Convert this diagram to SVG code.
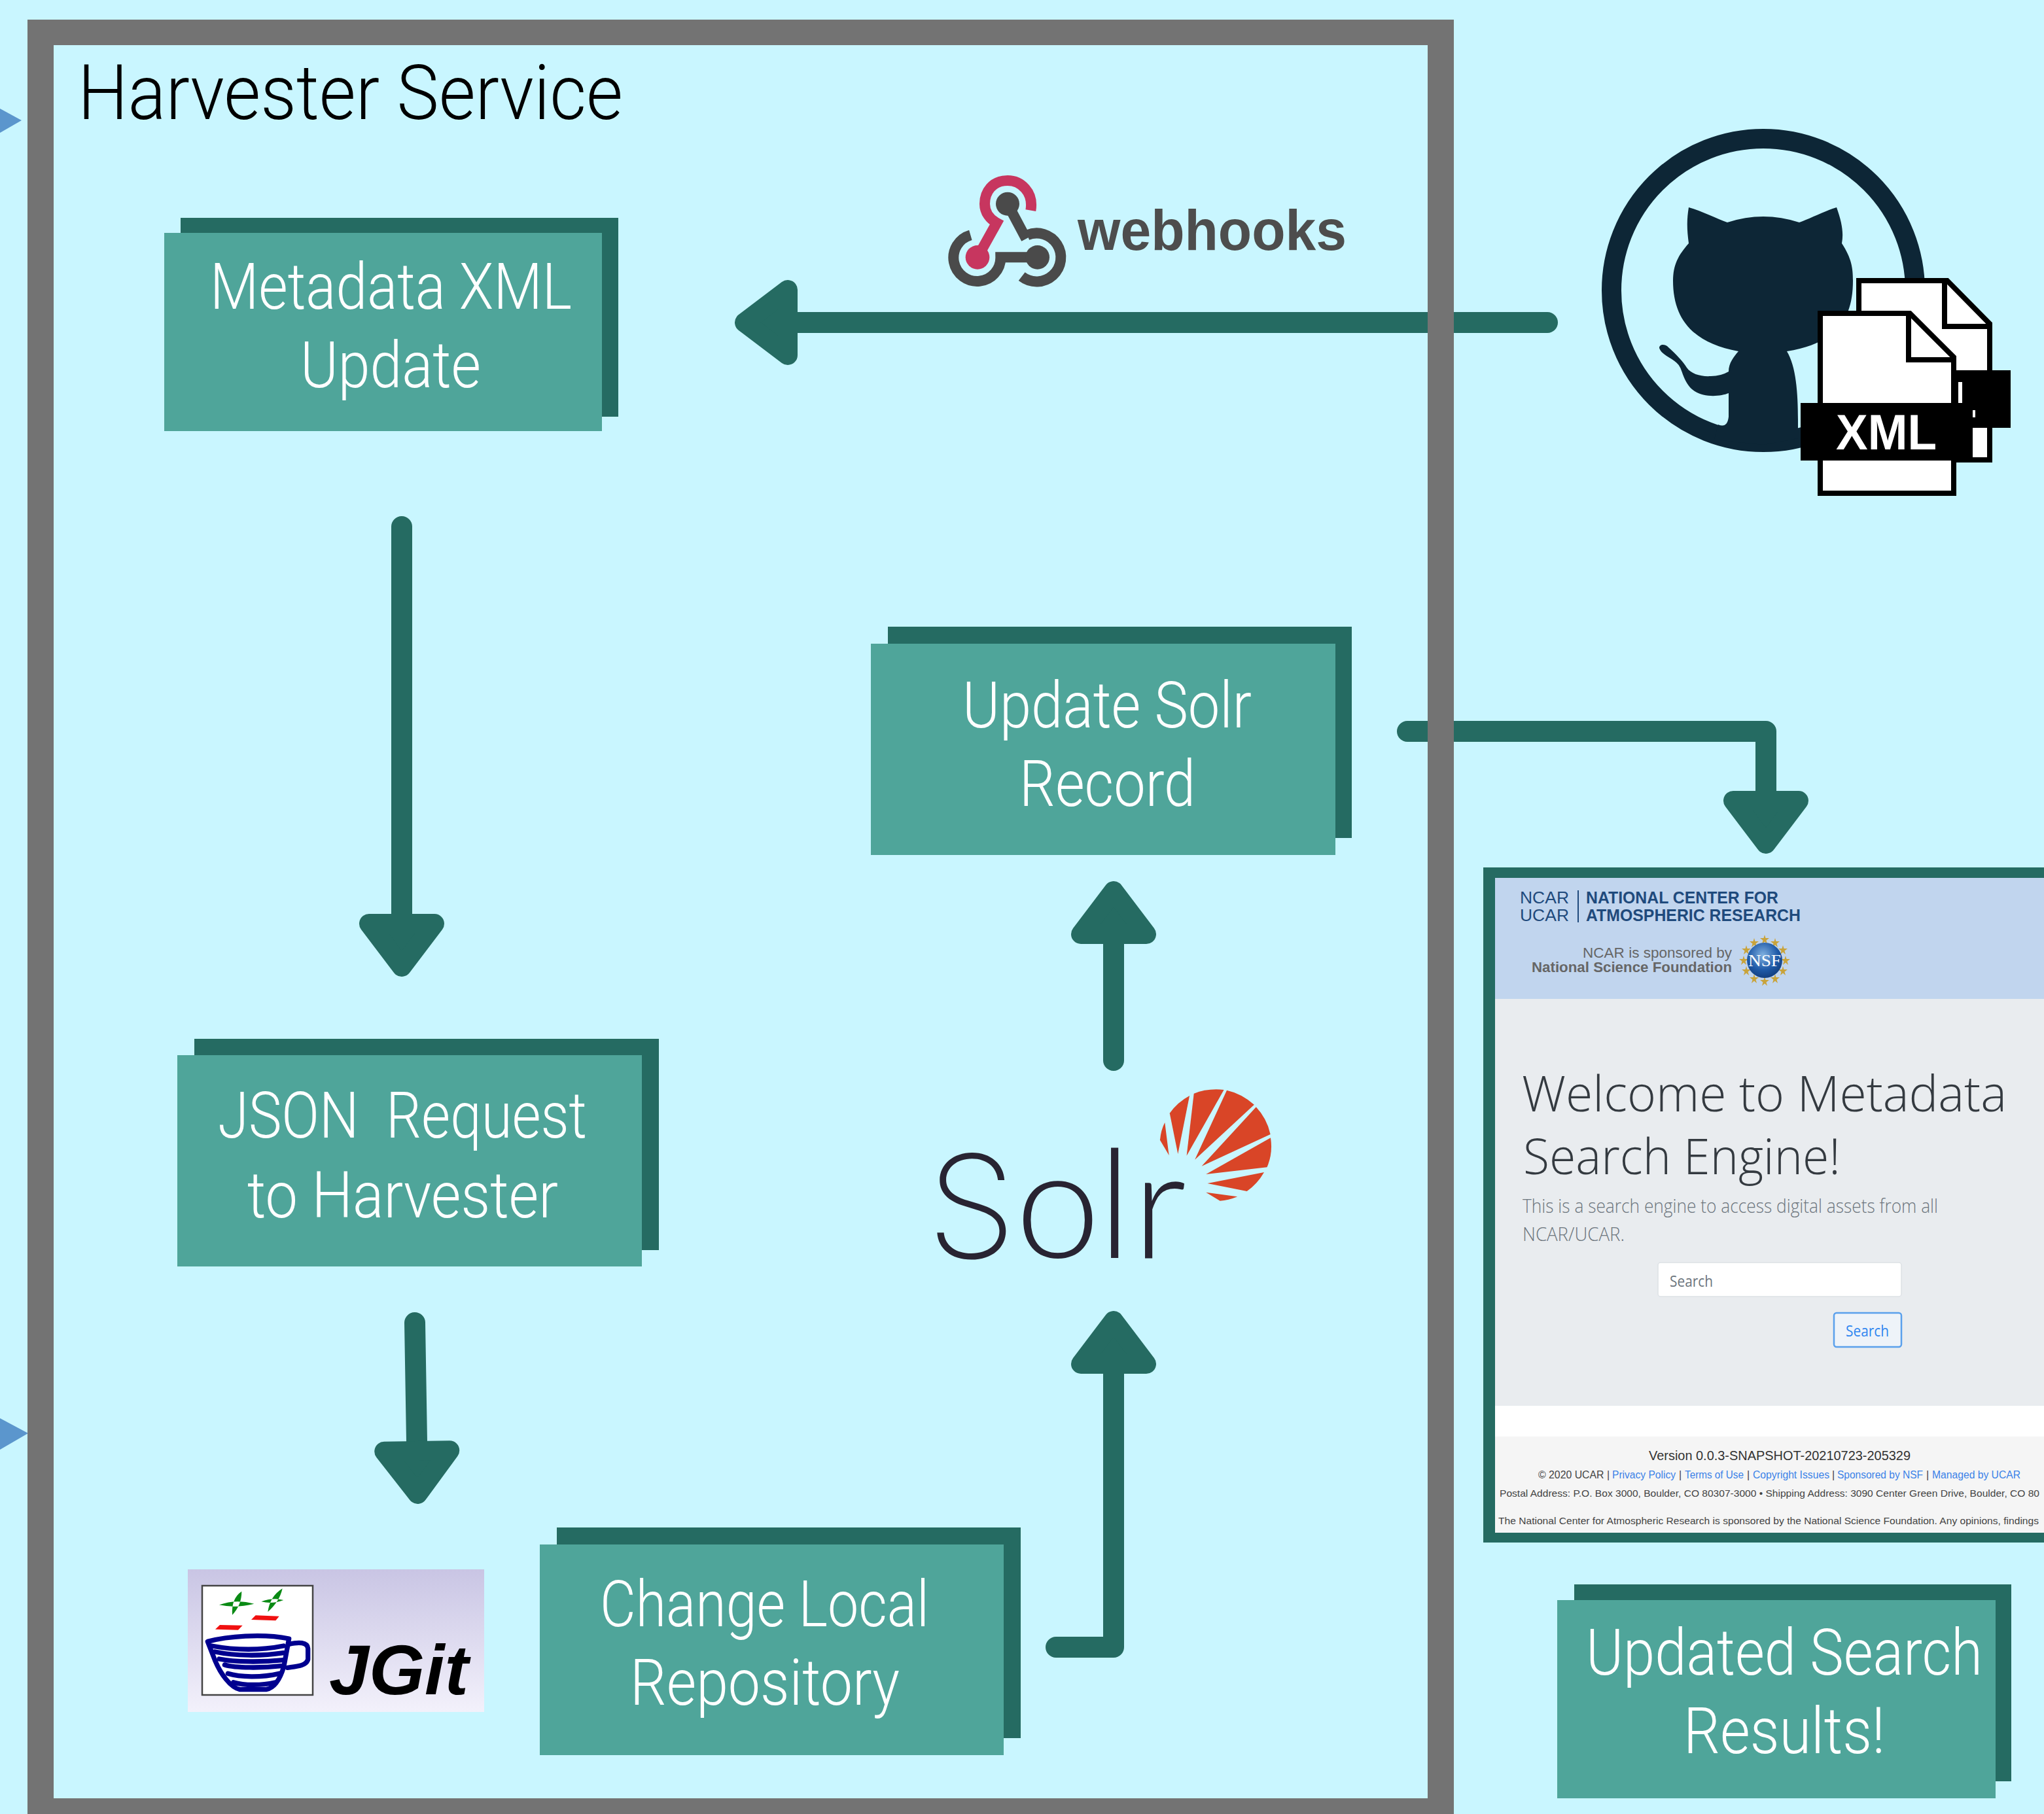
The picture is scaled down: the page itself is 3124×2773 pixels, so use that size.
<svg xmlns="http://www.w3.org/2000/svg" width="3124" height="2773" viewBox="0 0 3124 2773">
<defs>
<style>
.shadow{fill:#256b62}
.box{fill:#4fa59a}
.lbl{font-family:"Roboto","Liberation Sans",sans-serif;font-weight:300;font-size:98px;fill:#fff}
.conn{fill:none;stroke:#256b62;stroke-width:32;stroke-linecap:round;stroke-linejoin:round}
.sans{font-family:"Liberation Sans",Arial,sans-serif}
.open{font-family:"Open Sans","Liberation Sans",sans-serif}
.foot{font-family:"Liberation Sans",Arial,sans-serif;font-size:16px;fill:#444}
.link{fill:#3b82e8}
.dark{fill:#4a4a4a}
.octo{fill:#0d2636}
.doc{fill:#fff;stroke:#000;stroke-width:8}
.ray{fill:#d94527}
.cup{fill:none;stroke:#00008f;stroke-width:22;stroke-linecap:round;stroke-linejoin:round}
.hook{fill:none;stroke-width:48}
</style>
<marker id="head" viewBox="-2 -70 104 140" refX="0" refY="0" markerWidth="104" markerHeight="140" markerUnits="userSpaceOnUse" orient="auto">
<path d="M15 -50 L81 0 L15 50 Z" fill="#256b62" stroke="#256b62" stroke-width="30" stroke-linejoin="round"/>
</marker>
<linearGradient id="jg" x1="0" y1="0" x2="0" y2="1"><stop offset="0" stop-color="#c9c5e4"/><stop offset="1" stop-color="#f3f1fb"/></linearGradient>
<radialGradient id="globe" cx="0.45" cy="0.35" r="0.7"><stop offset="0" stop-color="#7fb0e0"/><stop offset="0.6" stop-color="#1f5aa8"/><stop offset="1" stop-color="#123a78"/></radialGradient>
<polygon id="star" points="0,-7 1.5,-2 7,-2 2.5,1.5 4,7 0,3.5 -4,7 -2.5,1.5 -7,-2 -1.5,-2" fill="#c9a33a"/>
</defs>
<rect width="3124" height="2773" fill="#c9f6ff"/>
<g id="edge-marks" fill="#5b96cd">
<polygon points="0,166 33,184 0,203"/>
<polygon points="0,2168 43,2191 0,2216"/>
</g>
<g id="connectors">
<path class="conn" d="M2365 493 H1219" marker-end="url(#head)"/>
<path class="conn" d="M614 805 V1397" marker-end="url(#head)"/>
<path class="conn" d="M634 2022 L637 2203" marker-end="url(#head)"/>
<path class="conn" d="M1614 2518 H1702 V2100" marker-end="url(#head)"/>
<path class="conn" d="M1702 1621 V1443" marker-end="url(#head)"/>
<path class="conn" d="M2151 1118 H2699 V1209" marker-end="url(#head)"/>
</g>
<path id="harvester-frame" fill="#737373" fill-rule="evenodd" d="M42 30 H2222 V2773 H42 Z M82 69 V2749 H2182 V69 Z"/>
<text id="harvester-title" x="119" y="182" font-size="116" fill="#000" textLength="833" lengthAdjust="spacingAndGlyphs" style="font-family:Roboto,'Liberation Sans',sans-serif;font-weight:300">Harvester Service</text>
<g id="metadata-xml-update">
<rect class="shadow" x="276" y="333" width="669" height="304"/>
<rect class="box" x="251" y="356" width="669" height="303"/>
<text class="lbl" x="321" y="472" textLength="553" lengthAdjust="spacingAndGlyphs">Metadata XML</text>
<text class="lbl" x="459" y="592" textLength="276" lengthAdjust="spacingAndGlyphs">Update</text>
</g>
<g id="update-solr-record">
<rect class="shadow" x="1357" y="958" width="709" height="323"/>
<rect class="box" x="1331" y="984" width="710" height="323"/>
<text class="lbl" x="1471" y="1112" textLength="442" lengthAdjust="spacingAndGlyphs">Update Solr</text>
<text class="lbl" x="1558" y="1232" textLength="269" lengthAdjust="spacingAndGlyphs">Record</text>
</g>
<g id="json-request">
<rect class="shadow" x="297" y="1588" width="710" height="323"/>
<rect class="box" x="271" y="1613" width="710" height="323"/>
<text class="lbl" x="333" y="1739" textLength="564" lengthAdjust="spacingAndGlyphs" xml:space="preserve">JSON  Request</text>
<text class="lbl" x="378" y="1861" textLength="475" lengthAdjust="spacingAndGlyphs">to Harvester</text>
</g>
<g id="change-local-repository">
<rect class="shadow" x="851" y="2335" width="709" height="322"/>
<rect class="box" x="825" y="2361" width="709" height="322"/>
<text class="lbl" x="917" y="2486" textLength="503" lengthAdjust="spacingAndGlyphs">Change Local</text>
<text class="lbl" x="963" y="2606" textLength="412" lengthAdjust="spacingAndGlyphs">Repository</text>
</g>
<g id="updated-search-results">
<rect class="shadow" x="2406" y="2422" width="668" height="301"/>
<rect class="box" x="2380" y="2446" width="670" height="303"/>
<text class="lbl" x="2424" y="2560" textLength="606" lengthAdjust="spacingAndGlyphs">Updated Search</text>
<text class="lbl" x="2573" y="2680" textLength="308" lengthAdjust="spacingAndGlyphs">Results!</text>
</g>
<g id="webhooks">
<g transform="translate(1420 250) scale(0.33333)">
<path class="hook" stroke="#c7365f" d="M466 215 C480 130 420 78 360 78 C290 78 255 130 255 185 C255 225 280 255 310 272 L222 430"/>
<circle cx="222" cy="430" r="55" fill="#c7365f"/>
<path class="hook" stroke="#4a4a4a" d="M360 185 L445 345"/>
<path class="hook" stroke="#4a4a4a" d="M450 328 A111 111 0 1 1 425 518"/>
<path class="hook" stroke="#4a4a4a" d="M190 328 A108 108 0 1 0 328 430 H497"/>
<circle class="dark" cx="360" cy="185" r="54"/>
<circle class="dark" cx="497" cy="430" r="55"/>
</g>
<text x="1647" y="382" class="sans" font-size="88" font-weight="700" fill="#4d4d4d" textLength="411" lengthAdjust="spacingAndGlyphs">webhooks</text>
</g>
<g id="github-xml">
<circle cx="2695" cy="444" r="232" fill="none" stroke="#0d2636" stroke-width="30"/>
<path class="octo" d="M2581 317 C2600 322 2625 335 2640 340 Q2695 322 2750 340 C2765 335 2790 322 2807 317 C2815 340 2818 355 2815 372 C2830 395 2832 410 2832 429 C2832 490 2805 525 2731 537 C2745 560 2748 600 2748 642 V670 L2695 680 L2620 672 L2626 649 Q2640 655 2642 637 V601 C2630 606 2605 608 2590 598 C2575 588 2572 570 2568 562 C2562 548 2540 545 2536 532 C2536 525 2546 526 2550 531 C2562 542 2572 552 2578 562 C2585 572 2600 576 2615 575 Q2630 575 2642 568 C2642 555 2650 545 2657 537 C2590 525 2557 490 2557 429 C2557 405 2565 390 2581 372 C2578 350 2578 335 2581 317 Z"/>
<path class="doc" d="M2841 429 H2976 L3041 495 V703 H2841 Z"/>
<path class="doc" d="M2972 430 V499 H3041" style="fill:none"/>
<rect x="2990" y="566" width="83" height="88" fill="#000"/>
<rect x="2993" y="584" width="6" height="33" fill="#fff"/>
<rect x="3015" y="627" width="4" height="11" fill="#fff"/>
<path class="doc" d="M2782 479 H2919 L2986 546 V754 H2782 Z"/>
<path class="doc" d="M2917 482 V550 H2986" style="fill:none"/>
<rect x="2752" y="616" width="263" height="88" fill="#000"/>
<text x="2806" y="687" class="sans" font-size="76" font-weight="700" fill="#fff" textLength="154" lengthAdjust="spacingAndGlyphs">XML</text>
</g>
<g id="solr">
<text y="1923" font-size="232" fill="#282432" style="font-family:Lato,'Open Sans',sans-serif;font-weight:300"><tspan x="1417" style="font-family:Inter,Lato,sans-serif;font-size:218px;font-weight:200">S</tspan><tspan x="1552">o</tspan><tspan x="1678">l</tspan><tspan x="1731">r</tspan></text>
<g transform="translate(1400 1640) scale(0.36996 0.33333)">
<path class="ray" d="M1008 308 Q1012 262 1028 228 L1045 378 Z"/>
<path class="ray" d="M1048 185 Q1080 135 1130 105 L1082 372 Z"/>
<path class="ray" d="M1148 95 Q1205 70 1272 78 L1118 380 Z"/>
<path class="ray" d="M1284 80 Q1345 95 1397 146 L1152 398 Z"/>
<path class="ray" d="M1405 157 Q1450 210 1464 282 L1180 428 Z"/>
<path class="ray" d="M1465 298 Q1475 370 1450 433 L1198 465 Z"/>
<path class="ray" d="M1438 456 Q1410 510 1367 543 L1204 507 Z"/>
<path class="ray" d="M1328 568 Q1290 585 1256 587 L1198 548 Z"/>
</g>
</g>
<g id="jgit">
<rect x="287" y="2399" width="453" height="218" fill="url(#jg)"/>
<rect x="309" y="2424" width="169" height="167" fill="#fff" stroke="#444" stroke-width="2.5"/>
<g transform="translate(260 2360) scale(0.33333)">
<path fill="#0a8a14" d="M225 280 Q300 252 385 275 Q300 296 225 280 Z M328 218 Q280 250 285 326 Q328 280 328 218 Z"/>
<path fill="#0a8a14" d="M418 265 Q470 245 520 258 Q470 277 418 265 Z M515 205 Q458 240 448 312 Q502 265 515 205 Z"/>
<path fill="#f01010" d="M228 372 L332 374 L312 395 L207 392 Z"/>
<path fill="#f01010" d="M392 328 L500 332 L484 352 L372 348 Z"/>
<path class="cup" d="M172 448 C260 425 420 410 545 435 L522 560 C505 620 480 660 440 668 L320 668 C280 660 230 600 200 520 Z"/>
<path class="cup" d="M190 468 C300 488 420 488 520 468 M205 495 C300 515 420 515 520 500 M225 528 C300 543 420 543 520 533 M250 555 C300 570 420 570 510 560 M265 595 C320 612 420 614 500 595 M290 635 C340 650 420 650 480 636"/>
<path class="cup" d="M545 460 C590 450 630 450 632 480 L632 530 C625 560 580 562 538 568"/>
</g>
<text x="503" y="2590" class="sans" font-size="108" font-weight="700" font-style="italic" fill="#000" textLength="213" lengthAdjust="spacingAndGlyphs">JGit</text>
</g>
<g id="search-page">
<rect x="2267" y="1326" width="857" height="1032" fill="#256b62"/>
<rect x="2285" y="1342" width="839" height="185" fill="#c1d5ee"/>
<rect x="2285" y="1527" width="839" height="622" fill="#e9ecef"/>
<rect x="2285" y="2149" width="839" height="47" fill="#fff"/>
<rect x="2285" y="2196" width="839" height="147" fill="#f5f5f5"/>
<g class="sans" fill="#1f4a7c" font-size="25">
<text x="2323" y="1381" textLength="75" lengthAdjust="spacingAndGlyphs">NCAR</text>
<text x="2323" y="1408" textLength="75" lengthAdjust="spacingAndGlyphs">UCAR</text>
<text x="2424" y="1381" font-weight="700" textLength="294" lengthAdjust="spacingAndGlyphs">NATIONAL CENTER FOR</text>
<text x="2424" y="1408" font-weight="700" textLength="328" lengthAdjust="spacingAndGlyphs">ATMOSPHERIC RESEARCH</text>
</g>
<rect x="2411" y="1361" width="2" height="49" fill="#1f4a7c"/>
<g class="sans" fill="#666" font-size="22">
<text x="2419" y="1464" textLength="228" lengthAdjust="spacingAndGlyphs">NCAR is sponsored by</text>
<text x="2341" y="1486" font-weight="700" textLength="306" lengthAdjust="spacingAndGlyphs">National Science Foundation</text>
</g>
<g id="nsf-seal">
<use href="#star" x="2697" y="1436"/><use href="#star" x="2713" y="1441"/><use href="#star" x="2725" y="1452"/><use href="#star" x="2729" y="1468"/><use href="#star" x="2725" y="1484"/><use href="#star" x="2713" y="1496"/><use href="#star" x="2697" y="1500"/><use href="#star" x="2681" y="1496"/><use href="#star" x="2669" y="1484"/><use href="#star" x="2665" y="1468"/><use href="#star" x="2669" y="1452"/><use href="#star" x="2681" y="1441"/>
<circle cx="2697" cy="1468" r="27" fill="url(#globe)"/>
<text x="2672" y="1477" font-size="26" fill="#fff" textLength="50" lengthAdjust="spacingAndGlyphs" style="font-family:'Liberation Serif',serif">NSF</text>
</g>
<g class="open" fill="#343a40" font-size="76" font-weight="300">
<text x="2326" y="1699" textLength="741" lengthAdjust="spacingAndGlyphs">Welcome to Metadata</text>
<text x="2328" y="1795" textLength="485" lengthAdjust="spacingAndGlyphs">Search Engine!</text>
</g>
<g class="open" fill="#6c757d" font-size="29" font-weight="300">
<text x="2327" y="1854" textLength="635" lengthAdjust="spacingAndGlyphs">This is a search engine to access digital assets from all</text>
<text x="2327" y="1897" textLength="156" lengthAdjust="spacingAndGlyphs">NCAR/UCAR.</text>
</g>
<rect x="2534" y="1930" width="372" height="52" rx="4" fill="#fff" stroke="#dde1e5" stroke-width="1.5"/>
<text x="2552" y="1967" class="open" font-size="23" fill="#6c757d" textLength="66" lengthAdjust="spacingAndGlyphs">Search</text>
<rect x="2803" y="2007" width="103" height="52" rx="4" fill="#eef3f9" stroke="#5aa0ec" stroke-width="2.5"/>
<text x="2821" y="2043" class="open" font-size="23" fill="#2e86f0" textLength="66" lengthAdjust="spacingAndGlyphs">Search</text>
<text x="2520" y="2232" class="sans" font-size="20" fill="#333" textLength="400" lengthAdjust="spacingAndGlyphs">Version 0.0.3-SNAPSHOT-20210723-205329</text>
<g class="foot">
<text x="2351" y="2260" textLength="109" lengthAdjust="spacingAndGlyphs">© 2020 UCAR |</text>
<text class="link" x="2464" y="2260" textLength="97" lengthAdjust="spacingAndGlyphs">Privacy Policy</text>
<text x="2566" y="2260">|</text>
<text class="link" x="2575" y="2260" textLength="90" lengthAdjust="spacingAndGlyphs">Terms of Use</text>
<text x="2670" y="2260">|</text>
<text class="link" x="2679" y="2260" textLength="117" lengthAdjust="spacingAndGlyphs">Copyright Issues</text>
<text x="2800" y="2260">|</text>
<text class="link" x="2808" y="2260" textLength="131" lengthAdjust="spacingAndGlyphs">Sponsored by NSF</text>
<text x="2944" y="2260">|</text>
<text class="link" x="2953" y="2260" textLength="135" lengthAdjust="spacingAndGlyphs">Managed by UCAR</text>
<text x="2292" y="2288" style="font-size:15px" textLength="825" lengthAdjust="spacingAndGlyphs">Postal Address: P.O. Box 3000, Boulder, CO 80307-3000 • Shipping Address: 3090 Center Green Drive, Boulder, CO 80</text>
<text x="2290" y="2330" style="font-size:15px" textLength="826" lengthAdjust="spacingAndGlyphs">The National Center for Atmospheric Research is sponsored by the National Science Foundation. Any opinions, findings</text>
</g>
</g>
</svg>
